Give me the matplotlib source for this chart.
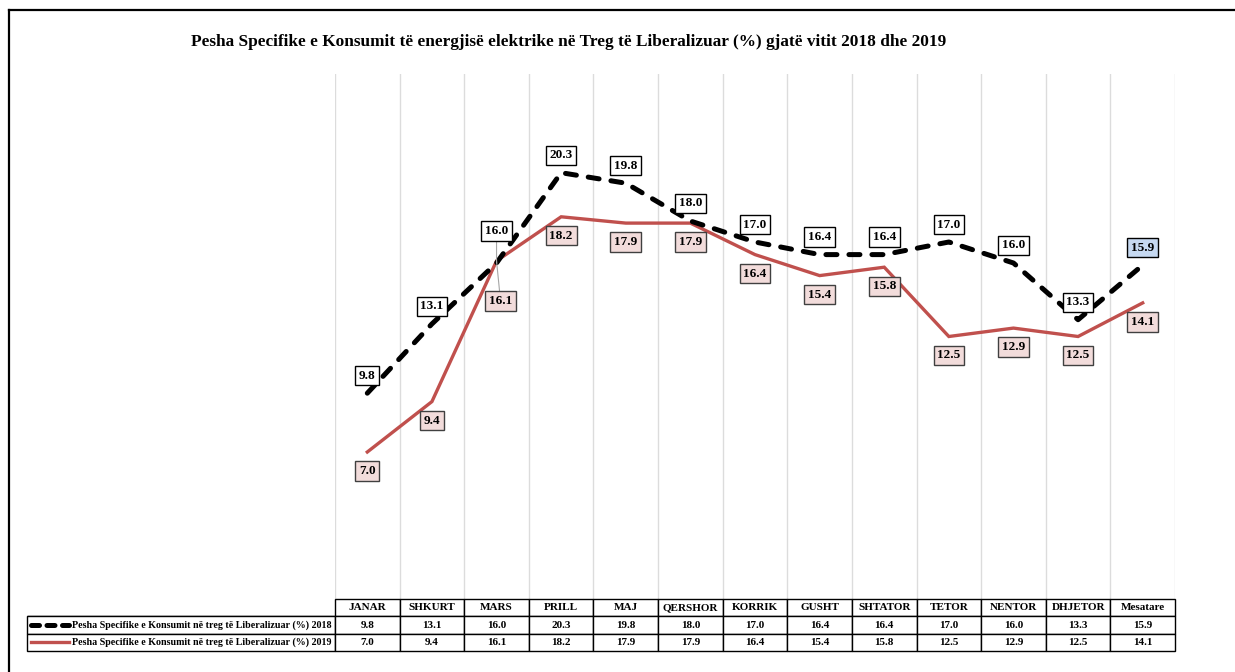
import matplotlib
matplotlib.use("Agg")
import matplotlib.pyplot as plt
from matplotlib.lines import Line2D

plt.rcParams['font.family'] = ['Liberation Serif', 'DejaVu Serif']
plt.rcParams['font.weight'] = 'bold'

months = ['JANAR', 'SHKURT', 'MARS', 'PRILL', 'MAJ', 'QERSHOR', 'KORRIK',
          'GUSHT', 'SHTATOR', 'TETOR', 'NENTOR', 'DHJETOR', 'Mesatare']
v2018 = [9.8, 13.1, 16.0, 20.3, 19.8, 18.0, 17.0, 16.4, 16.4, 17.0, 16.0, 13.3, 15.9]
v2019 = [7.0, 9.4, 16.1, 18.2, 17.9, 17.9, 16.4, 15.4, 15.8, 12.5, 12.9, 12.5, 14.1]
name2018 = 'Pesha Specifike e Konsumit në treg të Liberalizuar (%) 2018'
name2019 = 'Pesha Specifike e Konsumit në treg të Liberalizuar (%) 2019'
title = ('Pesha Specifike e Konsumit të energjisë elektrike në Treg të '
         'Liberalizuar (%) gjatë vitit 2018 dhe 2019')

red = '#c0504d'
W, H = 1235, 672
fig = plt.figure(figsize=(W / 100, H / 100), dpi=100)
# plot area in pixels: x 335..1175, y 74..599
ax = fig.add_axes([335 / W, (H - 599) / H, 840 / W, 525 / H])
ax.set_xlim(-0.5, len(months) - 0.5)
ax.set_ylim(0, 25)
for s in ax.spines.values():
    s.set_visible(False)
ax.set_xticks([])
ax.set_yticks([])
for i in range(len(months) + 1):
    ax.axvline(i - 0.5, color='#dcdcdc', lw=1.0, zorder=0)

x = list(range(len(months)))
l18, = ax.plot(x, v2018, color='black', lw=3.6, dash_capstyle='round',
               solid_capstyle='round', zorder=3)
l18.set_dashes((2.2, 2.4))
ax.plot(x, v2019, color=red, lw=2.4, solid_joinstyle='miter', zorder=2)

# data labels (offsets in pixels)
off18 = {2: (0, 32)}
off19 = {2: (4, -40)}
for i, v in enumerate(v2018):
    dx, dy = off18.get(i, (0, 17.5))
    fc = '#c6d9f1' if i == len(months) - 1 else 'white'
    kw = {}
    if i in off18:
        kw['arrowprops'] = dict(arrowstyle='-', color='#a6a6a6', lw=0.8,
                                shrinkA=0, shrinkB=0)
    ax.annotate(f'{v:.1f}', (i, v), xytext=(dx, dy), textcoords='offset pixels',
                ha='center', va='center', fontsize=9.5, fontweight='bold',
                bbox=dict(boxstyle='square,pad=0.28', fc=fc, ec='black', lw=1.0),
                zorder=5, **kw)
for i, v in enumerate(v2019):
    dx, dy = off19.get(i, (0, -19))
    kw = {}
    if i in off19:
        kw['arrowprops'] = dict(arrowstyle='-', color='#a6a6a6', lw=0.8,
                                shrinkA=0, shrinkB=0)
    ax.annotate(f'{v:.1f}', (i, v), xytext=(dx, dy), textcoords='offset pixels',
                ha='center', va='center', fontsize=9.5, fontweight='bold',
                bbox=dict(boxstyle='square,pad=0.28', fc='#f2dcdb', ec='#404040', lw=1.0),
                zorder=5, **kw)

# data table below the plot
lab_w = 308 / 840
col_w = 1 / len(months)
cell_text = [[''] + [f'{v:.1f}' for v in v2018],
             [''] + [f'{v:.1f}' for v in v2019]]
tab_bottom = -52 / 525
tab = ax.table(cellText=cell_text, colLabels=[''] + months,
               colWidths=[lab_w] + [col_w] * len(months),
               cellLoc='center', bbox=[-lab_w, tab_bottom, 1 + lab_w, -tab_bottom])
tab.auto_set_font_size(False)
tab.set_fontsize(8)
for (r, c), cell in tab.get_celld().items():
    cell.set_linewidth(1.0)
    cell.set_edgecolor('black')
    cell.get_text().set_fontweight('bold')
    if r == 0 and c == 0:
        cell.visible_edges = 'B'

row_h = -tab_bottom / 3
for k, (name, style) in enumerate([(name2018, 'dash'), (name2019, 'solid')]):
    yc = tab_bottom + row_h * (1.5 - k)
    xs = [(31 - 335) / 840, (69 - 335) / 840]
    if style == 'dash':
        ln = Line2D(xs, [yc, yc], color='black', lw=3.6, dash_capstyle='round',
                    transform=ax.transAxes, clip_on=False)
        ln.set_dashes((1.6, 1.5))
    else:
        ln = Line2D(xs, [yc, yc], color=red, lw=2.4, transform=ax.transAxes,
                    clip_on=False)
    ax.add_line(ln)
    ax.text((72 - 335) / 840, yc, name, transform=ax.transAxes, ha='left',
            va='center', fontsize=7.2, fontweight='bold')

fig.text(569 / W, 1 - 42 / H, title, ha='center', va='center',
         fontsize=12.4, fontweight='bold')

# outer frame (top and left)
fig.add_artist(Line2D([9 / W, 1], [1 - 10 / H, 1 - 10 / H], color='black',
                      lw=1.6, transform=fig.transFigure))
fig.add_artist(Line2D([9 / W, 9 / W], [0, 1 - 10 / H], color='black',
                      lw=1.6, transform=fig.transFigure))

fig.savefig('out.png', dpi=100, facecolor='white')
